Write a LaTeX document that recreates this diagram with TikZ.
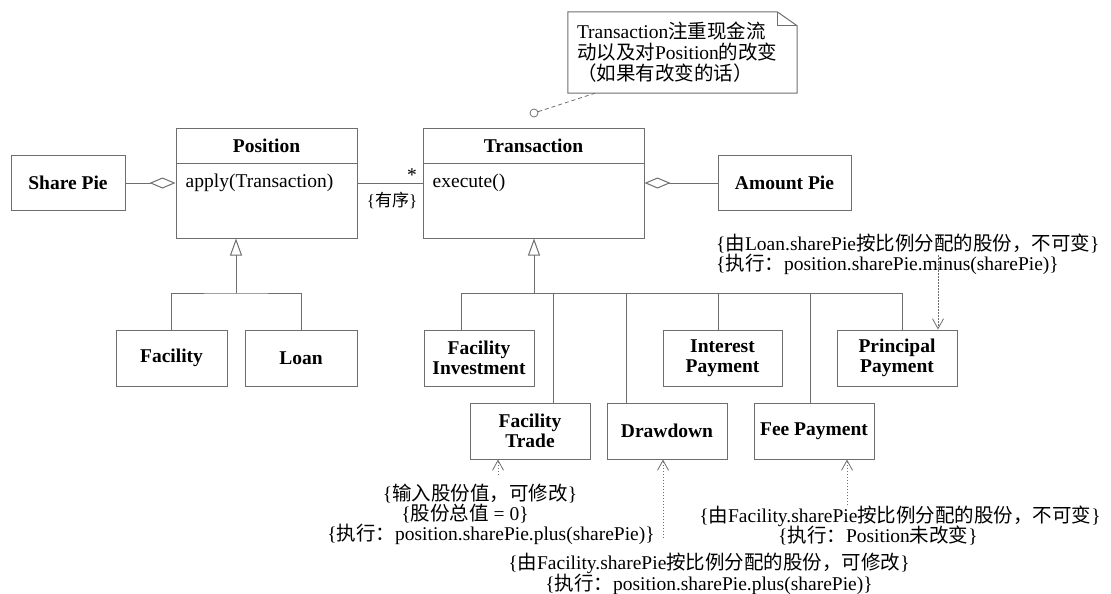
\documentclass[tikz,border=0pt]{standalone}
\usepackage{fontspec}
\setmainfont{Liberation Serif}
\newfontfamily\cjk{Noto Sans CJK SC}
\usetikzlibrary{arrows.meta}
\newcommand\zh[1]{{\cjk #1}}
\setlength\parindent{0pt}
\definecolor{ln}{RGB}{110,110,110}
\begin{document}
\begin{tikzpicture}[x=1pt,y=-1pt,
  every node/.style={font=\fontsize{19.5}{20}\selectfont, inner sep=0pt},
  box/.style={draw=ln, line width=1pt, font=\fontsize{19.5}{20}\selectfont\bfseries, align=center},
  cls/.style={draw=ln, line width=1pt},
  title/.style={font=\fontsize{19.5}{20}\selectfont\bfseries},
  ln/.style={draw=ln, line width=1pt},
  aggr/.style={ln, -{Diamond[open, length=26pt, width=11pt]}},
  gen/.style={ln, -{Triangle[open, length=17pt, width=12pt]}},
  dep/.style={draw=ln, line width=0.8pt, dash pattern=on 1.5pt off 1.5pt, -{Straight Barb[length=10pt, width=11pt]}},
  ann/.style={font=\fontsize{19.5}{19}\selectfont, align=center}
]
\useasboundingbox (0,0) rectangle (1111,594);

% top classes
\node[box, minimum width=114, minimum height=55] (sharepie) at (68,183) {Share Pie};
\node[cls, minimum width=181, minimum height=110] (position) at (266.5,183) {};
\node[title] (postitle) at (266.5,146) {Position};
\draw[ln] ([yshift=-36pt]position.north west) -- ([yshift=-36pt]position.north east);
\node[anchor=west] (papply) at ([xshift=10pt]position.west) {apply(Transaction)};

\node[cls, minimum width=221, minimum height=110] (transaction) at (533.5,183) {};
\node[title] (trtitle) at (533.5,146) {Transaction};
\draw[ln] ([yshift=-36pt]transaction.north west) -- ([yshift=-36pt]transaction.north east);
\node[anchor=west] (texec) at ([xshift=10pt]transaction.west) {execute()};

\node[box, minimum width=133, minimum height=55] (amountpie) at (784.5,183) {Amount Pie};

\draw[aggr] (sharepie.east) -- (position.west);
\draw[aggr] (amountpie.west) -- (transaction.east);
\draw[ln] (position.east) -- (transaction.west);
\node (mult) at (412,175) {*};
\node[font=\fontsize{17}{18}\selectfont] (ordered) at (392,200) {\{\zh{有序}\}};

% note
\node[text width=211pt, align=left, inner xsep=9pt, minimum height=81pt, font=\fontsize{19.5}{21}\selectfont] (note) at (682.5,52.5)
  {Transaction\zh{注重现金流}\\\zh{动以及对}Position\zh{的改变}\\\zh{（如果有改变的话）}};
\draw[ln] (note.north west) -- ([xshift=-20pt]note.north east) -- ([yshift=-14pt]note.north east) -- (note.south east) -- (note.south west) -- cycle;
\draw[ln] ([xshift=-20pt]note.north east) |- ([yshift=-14pt]note.north east);
\node[circle, draw=ln, line width=0.8pt, minimum size=8pt] (noteanchor) at (534,113) {};
\draw[draw=ln, line width=0.8pt, dash pattern=on 4pt off 3pt] (noteanchor) -- ([xshift=-87.5pt]note.south);

% Position subclasses
\node[box, minimum width=111, minimum height=56] (facility) at (171.5,358) {Facility};
\node[box, minimum width=112, minimum height=56] (loan) at (301,358) {Loan};
\coordinate (pjoin) at (236,293);
\draw[gen] (pjoin) -- (pjoin |- position.south);
\draw[ln] (facility.north) |- (pjoin) -| (loan.north);

% Transaction subclasses
\node[box, minimum width=110, minimum height=56] (fi) at (479,358) {Facility\\Investment};
\node[box, minimum width=120, minimum height=56] (ft) at (530,431) {Facility\\Trade};
\node[box, minimum width=120, minimum height=56] (dd) at (667,431) {Drawdown};
\node[box, minimum width=119, minimum height=56] (ip) at (722.5,358) {Interest\\Payment};
\node[box, minimum width=120, minimum height=56] (fp) at (814,431) {Fee Payment};
\node[box, minimum width=120, minimum height=56] (pp) at (897,358) {Principal\\Payment};
\coordinate (tjoin) at (534,293);
\draw[gen] (tjoin) -- (tjoin |- transaction.south);
\draw[ln] ([xshift=-18pt]fi.north) |- (tjoin);
\draw[ln] ([xshift=5pt]pp.north) |- (tjoin);
\draw[ln] ([xshift=23pt]ft.north) |- (tjoin);
\draw[ln] ([xshift=-41pt]dd.north) |- (tjoin);
\draw[ln] ([xshift=-4.5pt]ip.north) |- (tjoin);
\draw[ln] ([xshift=-4pt]fp.north) |- (tjoin);

% annotations
\node (ft1) at (480,494) {\{\zh{输入股份值，可修改}\}};
\node (ft2) at (465,514) {\{\zh{股份总值} = 0\}};
\node (ft3) at (491,534) {\{\zh{执行：}position.sharePie.plus(sharePie)\}};
\coordinate (ftsrc) at (498,475);
\draw[dep] (ftsrc) -- ([xshift=-32pt]ft.south);

\node[ann] (ddnote) at (709,574) {\{\zh{由}Facility.sharePie\zh{按比例分配的股份，可修改}\}\\\{\zh{执行：}position.sharePie.plus(sharePie)\}};
\coordinate (ddsrc) at (663,538);
\draw[dep] (ddsrc) -- ([xshift=-4pt]dd.south);

\node (fp1) at (900,516) {\{\zh{由}Facility.sharePie\zh{按比例分配的股份，不可变}\}};
\node (fp2) at (878,536) {\{\zh{执行：}Position\zh{未改变}\}};
\coordinate (fpsrc) at (847,505);
\draw[dep] (fpsrc) -- ([xshift=33pt]fp.south);

\node[align=left, anchor=west, font=\fontsize{19.5}{20}\selectfont] (ppnote) at (716,254) {\{\zh{由}Loan.sharePie\zh{按比例分配的股份，不可变}\}\\\{\zh{执行：}position.sharePie.minus(sharePie)\}};
\coordinate (ppsrc) at (938,255);
\draw[dep] (ppsrc) -- ([xshift=41pt]pp.north);
\end{tikzpicture}
\end{document}
